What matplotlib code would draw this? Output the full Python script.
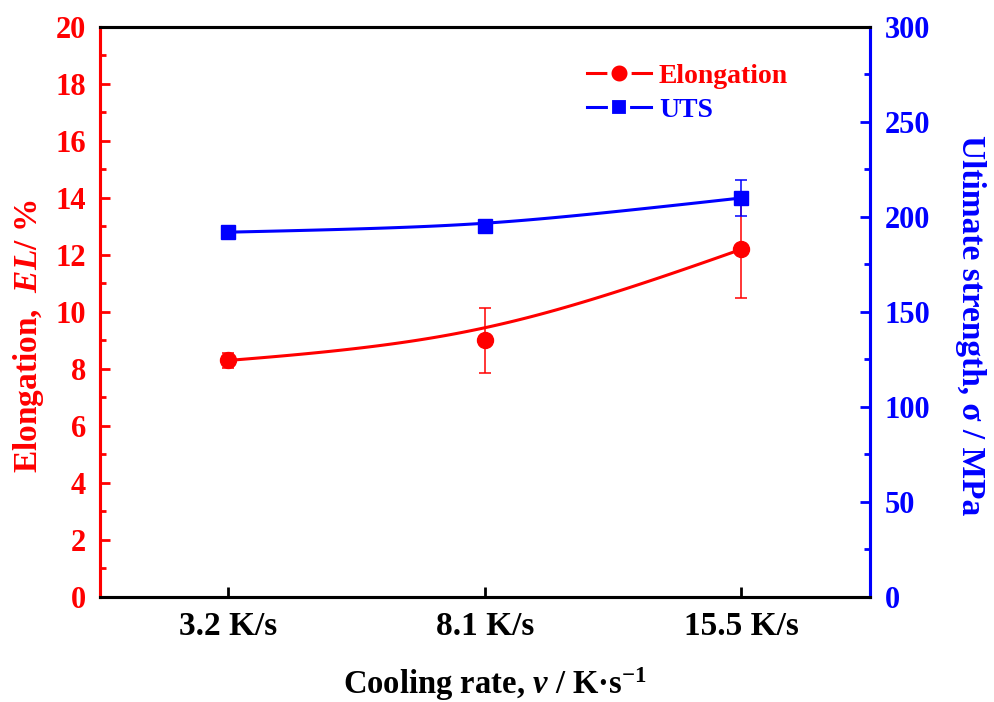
import numpy as np
import matplotlib
matplotlib.use('Agg')
import matplotlib.pyplot as plt
from matplotlib.lines import Line2D
from matplotlib.ticker import MultipleLocator

plt.rcParams['font.family'] = ['Liberation Serif', 'DejaVu Serif']
plt.rcParams['font.weight'] = 'bold'
plt.rcParams['axes.labelweight'] = 'bold'
plt.rcParams['mathtext.fontset'] = 'custom'
plt.rcParams['mathtext.rm'] = 'Liberation Serif:bold'
plt.rcParams['mathtext.it'] = 'Liberation Serif:italic:bold'
plt.rcParams['mathtext.bf'] = 'Liberation Serif:bold'

RED = '#ff0000'
BLUE = '#0000ff'

# cooling rates and measured properties
rates = ['3.2 K/s', '8.1 K/s', '15.5 K/s']
elong = [8.3, 9.0, 12.2]
elong_err = [0.25, 1.13, 1.7]
uts = [192, 195, 210]
uts_err = [2, 2, 9.5]


def bspline(xs, ys, w=1.8, n=100):
    # rational quadratic spline with the points as control points
    t = np.linspace(0, 1, n)[:, None]
    p = np.column_stack([xs, ys])
    b0, b1, b2 = (1 - t) ** 2, 2 * t * (1 - t) * w, t ** 2
    c = (b0 * p[0] + b1 * p[1] + b2 * p[2]) / (b0 + b1 + b2)
    return c[:, 0], c[:, 1]


x = np.arange(1, len(rates) + 1)

fig = plt.figure(figsize=(9.95, 7.02), dpi=100)
ax = fig.add_axes([0.1005, 0.1496, 0.7735, 0.812])
ax2 = ax.twinx()

# elongation
sx, sy = bspline(x, elong)
ax.plot(sx, sy, color=RED, lw=2.2, zorder=3)
ax.errorbar(x, elong, yerr=elong_err, fmt='none', ecolor=RED, elinewidth=1.1,
            capsize=4, capthick=1.1, zorder=3)
ax.plot(x, elong, 'o', color=RED, ms=11.5, zorder=4)

# ultimate tensile strength
sx, sy = bspline(x, uts, w=2.5)
ax2.plot(sx, sy, color=BLUE, lw=2.2, zorder=3)
ax2.errorbar(x, uts, yerr=uts_err, fmt='none', ecolor=BLUE, elinewidth=1.1,
             capsize=4, capthick=1.1, zorder=3)
ax2.plot(x, uts, 's', color=BLUE, ms=10, zorder=4)

ax.set_xlim(0.5, 3.5)
ax.set_ylim(0, 20)
ax2.set_ylim(0, 300)
ax.set_xticks(x)
ax.set_xticklabels(rates)
ax.yaxis.set_major_locator(MultipleLocator(2))
ax.yaxis.set_minor_locator(MultipleLocator(1))
ax2.yaxis.set_major_locator(MultipleLocator(50))
ax2.yaxis.set_minor_locator(MultipleLocator(25))

for a in (ax, ax2):
    for s in a.spines.values():
        s.set_linewidth(2.2)
    a.spines['left'].set_color(RED)
    a.spines['right'].set_color(BLUE)

ax.tick_params(axis='x', direction='in', length=7, width=2, labelsize=24, pad=10)
ax.tick_params(axis='y', which='major', direction='in', length=7, width=2,
               colors=RED, labelsize=22, pad=10)
ax.tick_params(axis='y', which='minor', direction='in', length=4, width=2,
               colors=RED)
ax2.tick_params(axis='y', which='major', direction='in', length=7, width=2,
                colors=BLUE, labelsize=22, pad=11)
ax2.tick_params(axis='y', which='minor', direction='in', length=4, width=2,
                colors=BLUE)

ax.set_xlabel(r'Cooling rate, $\mathit{v}$ / K·s$^{\mathrm{-1}}$', fontsize=23.5,
              labelpad=17)
ax.xaxis.label.set_x(0.513)
ax.set_ylabel(r'Elongation,  $\mathit{EL}$/ %', fontsize=24, color=RED,
              labelpad=7)
ax.yaxis.label.set_y(0.458)
ax2.set_ylabel('Ultimate strength, σ / MPa', fontsize=24, color=BLUE,
               rotation=270, labelpad=40)
ax2.yaxis.label.set_y(0.477)

handles = [
    Line2D([], [], color=RED, lw=2.2, marker='o', ms=14.5, mec='white', mew=3,
           mfc=RED),
    Line2D([], [], color=BLUE, lw=2.2, marker='s', ms=13, mec='white', mew=3,
           mfc=BLUE),
]
leg = ax2.legend(handles, ['Elongation', 'UTS'], loc='upper left',
                 bbox_to_anchor=(0.6, 0.98), frameon=False, fontsize=20,
                 handlelength=2.3, handletextpad=0.3, labelspacing=0.32,
                 numpoints=1)
for t, c in zip(leg.get_texts(), [RED, BLUE]):
    t.set_color(c)

fig.savefig('out.png', dpi=100)
